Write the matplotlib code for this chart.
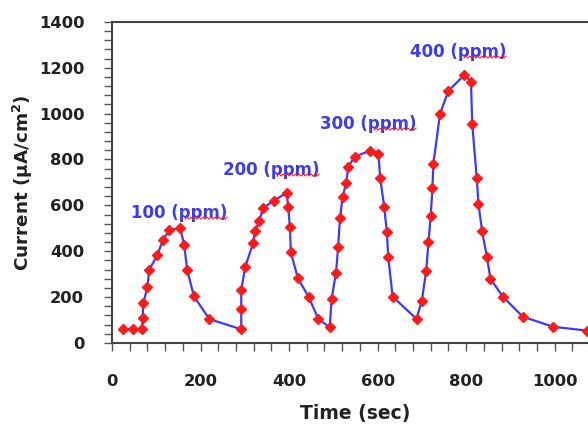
import matplotlib
matplotlib.use("Agg")
import matplotlib.pyplot as plt
import numpy as np
from matplotlib.ticker import MultipleLocator
from matplotlib.lines import Line2D

time_sec = [24, 47, 68, 69, 71, 80, 84, 102, 115, 129, 154, 163, 170, 185, 220,
            292, 292, 292, 301, 319, 323, 333, 341, 365, 395, 398, 402, 404, 420, 444, 466,
            492, 496, 506, 511, 515, 521, 529, 534, 548, 583, 602, 606, 615, 621, 624, 634,
            688, 700, 710, 715, 720, 724, 726, 741, 760, 796, 811, 814, 824, 828, 836, 847,
            855, 883, 928, 996, 1073]
current = [61, 61, 61, 110, 176, 243, 318, 383, 447, 491, 502, 427, 318, 204, 104,
           60, 150, 230, 332, 437, 488, 533, 587, 620, 655, 594, 504, 395, 282, 202, 106,
           68, 190, 306, 420, 543, 637, 698, 768, 812, 838, 822, 718, 594, 482, 376, 202,
           105, 185, 316, 439, 553, 674, 780, 998, 1099, 1168, 1139, 953, 720, 606, 489, 376,
           280, 202, 115, 71, 54]

labels = ["100 (ppm)", "200 (ppm)", "300 (ppm)", "400 (ppm)"]
label_x = [43, 251, 470, 673]
label_y = [566, 754, 954, 1268]

xticks = [0, 200, 400, 600, 800, 1000]
yticks = [0, 200, 400, 600, 800, 1000, 1200, 1400]

fig = plt.figure(figsize=(5.88, 4.26), dpi=100)
ax = fig.add_axes([0.1905, 0.1948, 0.828, 0.754])

ax.plot(time_sec, current, color="#3a3aff", lw=1.6, zorder=2)
ax.plot(time_sec, current, linestyle="none", marker="D", ms=5.2, color="#ff1a1a",
        mec="#ff1a1a", zorder=3)

texts = []
for t, x, y in zip(labels, label_x, label_y):
    texts.append(ax.text(x, y, t, color="#3b3bef", fontsize=12, fontweight="bold",
                         ha="left", va="center", zorder=4))

ax.set_xlim(0, 1100)
ax.set_ylim(0, 1400)
ax.set_xticks(xticks)
ax.set_yticks(yticks)
ax.xaxis.set_minor_locator(MultipleLocator(40))
ax.yaxis.set_minor_locator(MultipleLocator(40))
ax.tick_params(which="both", direction="out", length=6, width=1, color="#555555")
ax.tick_params(axis="y", which="major", pad=14, labelsize=11.8)
ax.tick_params(axis="x", which="major", pad=16, labelsize=11.8)
for lab in ax.get_xticklabels() + ax.get_yticklabels():
    lab.set_fontweight("bold")
    lab.set_color("#222222")

for s in ["left", "bottom", "top", "right"]:
    ax.spines[s].set_color("#444444")
    ax.spines[s].set_linewidth(1.5)

ax.set_xlabel("Time (sec)", fontsize=13.5, fontweight="bold", color="#222222", labelpad=11)
ax.set_ylabel("Current (μA/cm$^\\mathbf{2}$)", fontsize=13.2, fontweight="bold",
              color="#222222", labelpad=3)

# red wavy spell-check underline beneath "ppm)"
fig.canvas.draw()
renderer = fig.canvas.get_renderer()
H = fig.bbox.height
for t in texts:
    bb = t.get_window_extent(renderer)
    x0 = bb.x0 + 0.56 * bb.width
    x1 = bb.x1
    yb = bb.y0 + 3.0
    xs = np.arange(x0, x1 + 0.1, 2.0)
    ys = yb + np.where(np.arange(len(xs)) % 2 == 0, 0, 2.0)
    fig.add_artist(Line2D(xs / fig.bbox.width, ys / H, color="#ff2020", lw=0.8,
                          transform=fig.transFigure, zorder=5))

fig.savefig("out.png", dpi=100)
